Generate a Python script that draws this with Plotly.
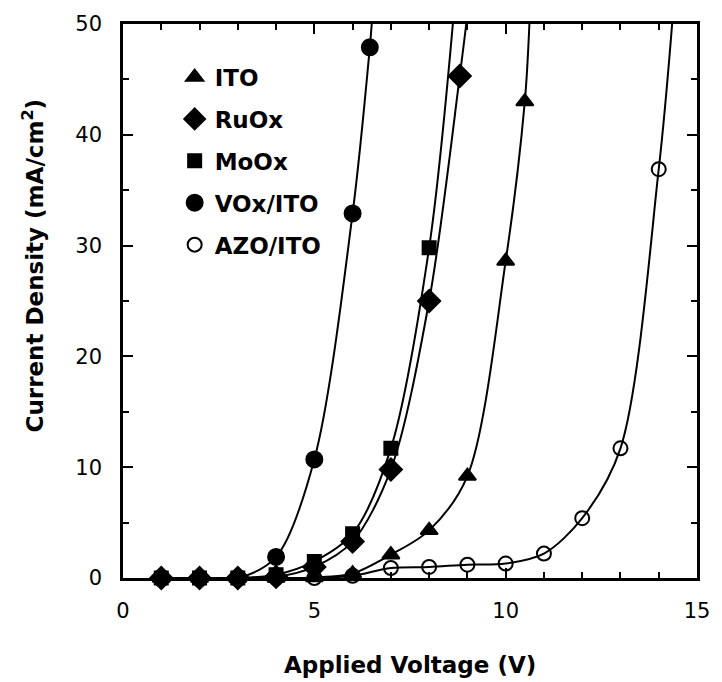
import plotly.graph_objects as go

# J-V characteristics of devices with different anode layers
volts_ito = [1, 2, 3, 4, 5, 6, 7, 8, 9, 10, 10.5]
j_ito = [0, 0, 0, 0, 0.05, 0.4, 2.1, 4.3, 9.2, 28.6, 43.0]

volts_ruox = [1, 2, 3, 4, 5, 6, 7, 8, 8.8]
j_ruox = [0, 0, 0, 0.1, 1.0, 3.3, 9.8, 25.0, 45.3]

volts_moox = [1, 2, 3, 4, 5, 6, 7, 8]
j_moox = [0, 0, 0, 0.3, 1.5, 4.0, 11.7, 29.8]

volts_vox = [1, 2, 3, 4, 5, 6, 6.45]
j_vox = [0, 0, 0, 1.9, 10.7, 32.9, 47.9]

volts_azo = [1, 2, 3, 4, 5, 6, 7, 8, 9, 10, 11, 12, 13, 14]
j_azo = [0, 0, 0, 0, 0, 0.2, 0.9, 1.0, 1.2, 1.3, 2.2, 5.4, 11.7, 36.9]

# voltage at which each fitted curve leaves the top of the frame (J = 50)
exit_v_ito = 10.62
exit_v_ruox = 8.97
exit_v_moox = 8.62
exit_v_vox = 6.5
exit_v_azo = 14.35
j_top = 50

series = [
    ("ITO", volts_ito, j_ito, exit_v_ito, "triangle-up", 15),
    ("RuOx", volts_ruox, j_ruox, exit_v_ruox, "diamond", 17),
    ("MoOx", volts_moox, j_moox, exit_v_moox, "square", 13),
    ("VOx/ITO", volts_vox, j_vox, exit_v_vox, "circle", 16),
    ("AZO/ITO", volts_azo, j_azo, exit_v_azo, "circle-open", 14),
]

fig = go.Figure()

# smooth fitted curves
for name, v, j, ev, sym, size in series:
    fig.add_trace(go.Scatter(
        x=v + [ev], y=j + [j_top], mode="lines",
        line=dict(color="black", width=2, shape="spline", smoothing=0.9),
        showlegend=False, hoverinfo="skip",
    ))

# measured points
for i, (name, v, j, ev, sym, size) in enumerate(series):
    fig.add_trace(go.Scatter(
        x=v, y=j, mode="markers", name=name, legendgroup=str(i),
        marker=dict(symbol=sym, size=size, color="black",
                    line=dict(color="black", width=2)),
        cliponaxis=False,
    ))

axis_common = dict(
    showline=True, linecolor="black", linewidth=2.5, mirror="allticks",
    ticks="inside", ticklen=10, tickwidth=2, tickcolor="black",
    showgrid=False, zeroline=False,
    tickfont=dict(family="DejaVu Sans", size=21, color="black"),
)

fig.update_xaxes(
    range=[0, 15], tick0=0, dtick=5,
    minor=dict(ticks="inside", ticklen=6, tickwidth=2, tickcolor="black", dtick=1),
    ticklabelstandoff=12,
    **axis_common,
)
fig.update_yaxes(
    range=[0, 50], tick0=0, dtick=10,
    minor=dict(ticks="inside", ticklen=6, tickwidth=2, tickcolor="black", dtick=5),
    ticklabelstandoff=14,
    **axis_common,
)

fig.update_layout(
    width=722, height=682,
    margin=dict(l=123, r=14, t=19, b=104),
    paper_bgcolor="white", plot_bgcolor="white",
    showlegend=True,
    legend=dict(
        x=0.09, y=0.943, xanchor="left", yanchor="top",
        bgcolor="rgba(0,0,0,0)", borderwidth=0,
        font=dict(family="DejaVu Sans", size=23, color="black", weight="bold"),
        tracegroupgap=9, itemwidth=30,
    ),
    annotations=[
        dict(text="<b>Applied Voltage (V)</b>", xref="paper", yref="paper",
             x=0.5, y=-0.157, xanchor="center", yanchor="middle",
             showarrow=False,
             font=dict(family="DejaVu Sans", size=23, color="black")),
        dict(text="<b>Current Density (mA/cm<sup>2</sup>)</b>", xref="paper", yref="paper",
             x=-0.156, y=0.565, xanchor="center", yanchor="middle",
             textangle=-90, showarrow=False,
             font=dict(family="DejaVu Sans", size=23, color="black")),
    ],
)

fig.write_html("out.html")
